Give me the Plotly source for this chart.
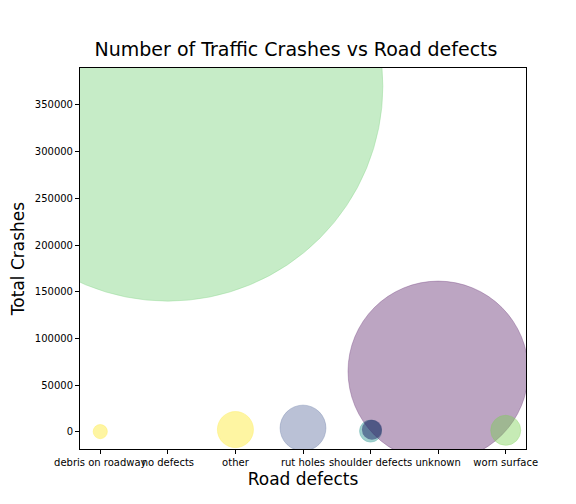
import plotly.graph_objects as go
import numpy as np

defects = ["debris on roadway", "no defects", "other", "rut holes",
           "shoulder defects", "unknown", "worn surface"]
crashes = [400, 370000, 2600, 4200, 970, 65000, 1800]
colors = ["rgba(253,231,37,0.6)", "rgba(94,201,98,0.5)", "rgba(253,231,37,0.6)",
          "rgba(59,82,139,0.5)", "rgba(33,145,140,0.6)", "rgba(68,1,84,0.5)",
          "rgba(122,209,81,0.6)"]

# marker area proportional to crash count
sizes = [430 * np.sqrt(c / 370000) for c in crashes]

fig = go.Figure(go.Scatter(
    x=list(range(len(defects))), y=crashes, mode="markers",
    marker=dict(size=sizes, sizemode="diameter", color=colors,
                line=dict(width=0.8, color=colors)),
))
# small dark point next to shoulder defects
fig.add_trace(go.Scatter(x=[4.02], y=[2500], mode="markers",
                         marker=dict(size=20, color="rgba(40,50,110,0.55)")))

axis = dict(showline=True, linecolor="black", mirror=True, ticks="outside",
            ticklen=4, tickcolor="black", showgrid=False, zeroline=False,
            automargin=False, tickfont=dict(size=10, color="black"))
fig.update_layout(
    width=576, height=504, showlegend=False,
    paper_bgcolor="white", plot_bgcolor="white",
    font=dict(family="DejaVu Sans", color="black"),
    margin=dict(l=72, r=58, t=60, b=63),
    title=dict(text="Number of Traffic Crashes vs Road defects", x=0.5,
               xanchor="center", y=0.905, yanchor="bottom", font=dict(size=19)),
    xaxis=dict(axis, range=[-0.3, 6.3], tickvals=list(range(7)), ticktext=defects,
               tickangle=0,
               title=dict(text="Road defects", font=dict(size=17), standoff=6)),
    yaxis=dict(axis, range=[-18200, 389400], dtick=50000, tickformat="d",
               title=dict(text="Total Crashes", font=dict(size=17), standoff=8)),
)
fig.write_html("out.html")
